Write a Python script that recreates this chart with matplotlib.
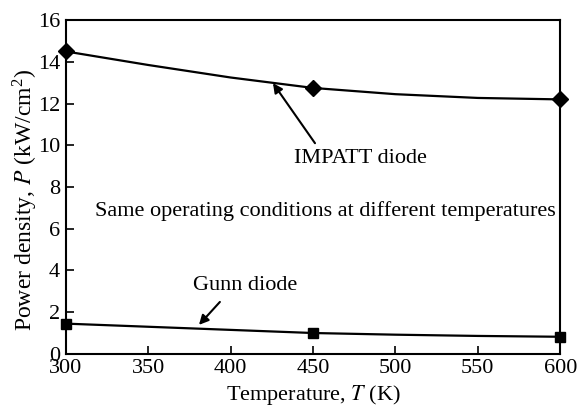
import numpy as np
import matplotlib
matplotlib.use('Agg')
import matplotlib.pyplot as plt

# measured points (markers)
temps = [300, 450, 600]
impatt = [14.5, 12.75, 12.2]
gunn = [1.45, 1.0, 0.82]

# values
curve_t = [300, 350, 400, 450, 500, 550, 600]
impatt_curve = [14.5, 13.85, 13.25, 12.75, 12.45, 12.27, 12.2]
gunn_curve = [1.45, 1.3, 1.15, 1.0, 0.92, 0.86, 0.82]

plt.rcParams['font.family'] = ['Liberation Serif', 'DejaVu Serif']
plt.rcParams['mathtext.fontset'] = 'stix'

fs = 16

fig = plt.figure(figsize=(5.77, 4.11), dpi=100)
ax = fig.add_axes([0.114, 0.139, 0.857, 0.812])

ax.plot(curve_t, impatt_curve, color='black', lw=1.6)
ax.plot(temps, impatt, 'D', color='black', ms=8, clip_on=False)
ax.plot(curve_t, gunn_curve, color='black', lw=1.6)
ax.plot(temps, gunn, 's', color='black', ms=7, clip_on=False)

ax.set_xlim(300, 600)
ax.set_ylim(0, 16)
ax.set_xticks(range(300, 601, 50))
ax.set_yticks(range(0, 17, 2))
ax.tick_params(direction='in', length=6, width=1.2, labelsize=fs, top=False, right=False, pad=4)
for s in ax.spines.values():
    s.set_linewidth(1.5)

ax.set_xlabel('Temperature, $\\mathit{T}$ (K)', fontsize=fs, labelpad=3)
ax.set_ylabel('Power density, $\\mathit{P}$ (kW/cm$^{\\mathregular{2}}$)', fontsize=17)
ax.yaxis.set_label_coords(-0.053, 0.461)

arrow = dict(arrowstyle='-|>', color='black', lw=1.5, mutation_scale=14, shrinkA=0, shrinkB=0)
ax.annotate('', xy=(425.7, 12.98), xytext=(451.2, 10.1), arrowprops=arrow)
ax.text(478.5, 9.39, 'IMPATT diode', fontsize=fs, ha='center', va='center')
ax.annotate('', xy=(380.8, 1.39), xytext=(393.5, 2.49), arrowprops=arrow)
ax.text(408.7, 3.3, 'Gunn diode', fontsize=fs, ha='center', va='center')
ax.text(457.3, 6.85, 'Same operating conditions at different temperatures', fontsize=fs,
        ha='center', va='center')

fig.savefig('out.png', dpi=100)
